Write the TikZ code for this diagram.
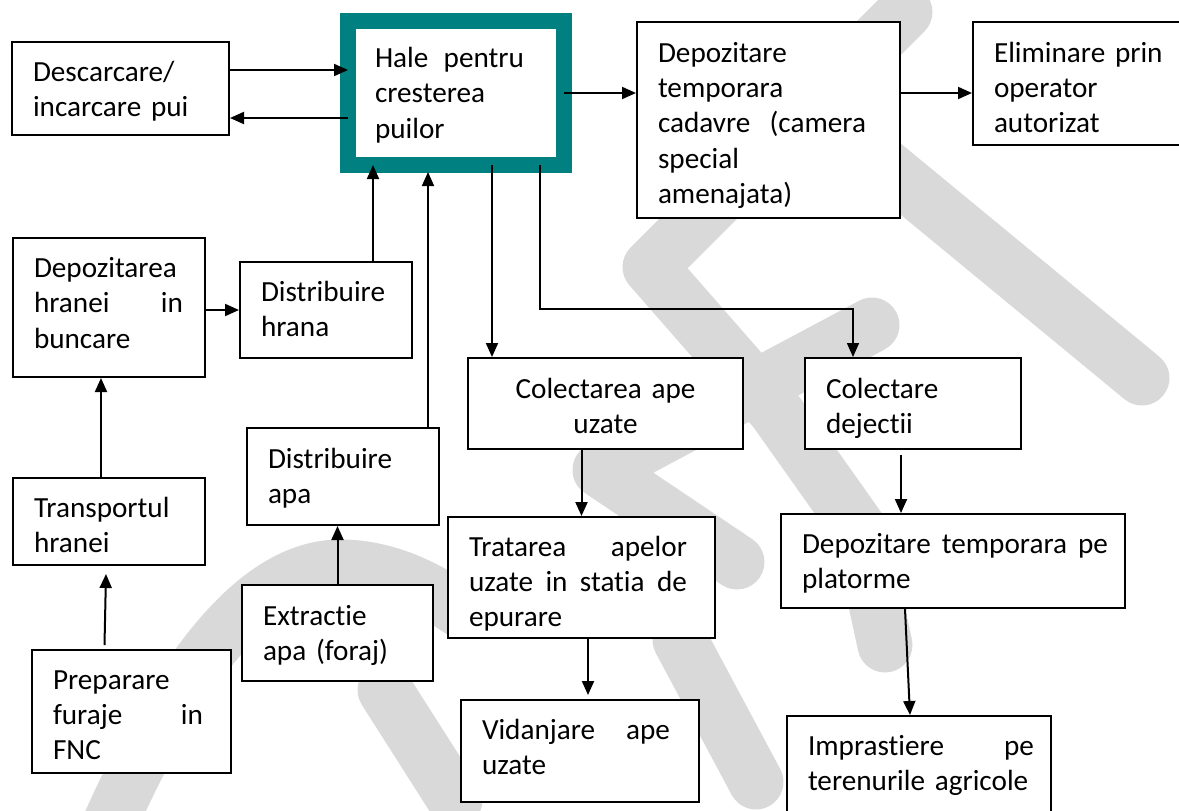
\documentclass[tikz,border=0pt]{standalone}
\usepackage{fontspec}
\setmainfont{Carlito}[Ligatures=NoCommon]
\usetikzlibrary{arrows.meta}

\newdimen\unitpx \unitpx=0.75pt
\newcommand{\boxfont}{\fontsize{21.9pt}{26.5pt}\selectfont}
\newcommand{\spreadline}[2]{\leavevmode\hbox to #1\unitpx{\spaceskip=0.23em plus 1fil\relax #2}}
\definecolor{halecol}{RGB}{0,128,128}
\definecolor{wmgray}{RGB}{217,217,217}

\tikzset{
  box/.style={draw, line width=2\unitpx, fill=white, anchor=north west, align=left,
    inner xsep=21\unitpx, inner ysep=0pt, font=\boxfont},
  arr/.style={line width=2\unitpx, -{Triangle[length=10.5pt,width=9pt]}},
  wm/.style={wmgray, line width=55\unitpx, line cap=round, line join=round},
}

\begin{document}
\begin{tikzpicture}[x=0.75pt, y=-0.75pt]

    \useasboundingbox (0,0) rectangle (1179,811);
    \clip (0,0) rectangle (1179,811);

    % watermark
    \draw[wm] (905,12) -- (650,267) -- (775,410) -- (860,530) -- (885,645);
    \draw[wm] (880,162) -- (1142,378);
    \draw[wm] (872,325) -- (600,470) -- (737,562);
    \draw[wm] (680,640) -- (756,782);
    \draw[wm] (385,690) -- (455,800);
    \draw[wm] (107,830) .. controls (200,620) and (280,567) .. (340,567)
        .. controls (390,567) and (430,590) .. (460,610);

    % boxes
    \node[box, text width=175\unitpx, text height=39\unitpx, text depth=54\unitpx] (desc) at (11,41)
        {Descarcare/\\incarcare pui};
    \node[box, draw=halecol, line width=16\unitpx, outer sep=0pt, inner xsep=27\unitpx,
        text width=162\unitpx, text height=46.5\unitpx, text depth=97.5\unitpx] (hale) at (348,21)
        {\spreadline{149}{Hale pentru}\\cresterea\\puilor};
    \node[box, text width=221\unitpx, text height=40\unitpx, text depth=156\unitpx] (dep) at (636,21)
        {Depozitare\\temporara\\\spreadline{208}{cadavre (camera}\\special\\amenajata)};
    \node[box, text width=186\unitpx, text height=40\unitpx, text depth=83\unitpx] (elim) at (972,21)
        {Eliminare prin\\operator\\autorizat};
    \node[box, text width=150\unitpx, text height=39.5\unitpx, text depth=99.5\unitpx] (dhr) at (12,237)
        {Depozitarea\\\spreadline{149}{hranei in}\\buncare};
    \node[box, text width=130\unitpx, text height=39\unitpx, text depth=57\unitpx] (dh) at (239,261)
        {Distribuire\\hrana};
    \node[box, align=center, text width=233\unitpx, text height=40\unitpx, text depth=51\unitpx] (ca) at (467,357)
        {Colectarea ape\\uzate};
    \node[box, text width=174\unitpx, text height=40\unitpx, text depth=51\unitpx] (cd) at (804,357)
        {Colectare\\dejectii};
    \node[box, text width=150\unitpx, text height=40\unitpx, text depth=57\unitpx] (da) at (246,427)
        {Distribuire\\apa};
    \node[box, text width=150\unitpx, text height=39\unitpx, text depth=48\unitpx] (th) at (12,477)
        {Transportul\\hranei};
    \node[box, text width=225\unitpx, text height=39\unitpx, text depth=82\unitpx] (tr) at (447,516)
        {\spreadline{218}{Tratarea apelor}\\\spreadline{218}{uzate in statia de}\\epurare};
    \node[box, text width=302\unitpx, text height=39\unitpx, text depth=55\unitpx] (pl) at (780,513)
        {\spreadline{306}{Depozitare temporara pe}\\platorme};
    \node[box, text width=149\unitpx, text height=40\unitpx, text depth=56\unitpx] (ex) at (241,584)
        {Extractie\\apa (foraj)};
    \node[box, text width=157\unitpx, text height=39\unitpx, text depth=84\unitpx] (pr) at (31,649)
        {Preparare\\\spreadline{150}{furaje in}\\FNC};
    \node[box, text width=196\unitpx, text height=39\unitpx, text depth=63\unitpx] (vi) at (460,699)
        {\spreadline{188}{Vidanjare ape}\\uzate};
    \node[box, text width=222\unitpx, text height=39\unitpx, text depth=76\unitpx] (im) at (786,715)
        {\spreadline{226}{Imprastiere pe}\\terenurile agricole};

    % connectors
    \coordinate (p1) at ([yshift=18.5\unitpx]desc.east);
    \coordinate (p2) at ([yshift=-29.5\unitpx]desc.east);
    \draw[arr] (p1) -- (p1 -| hale.west);
    \draw[arr] (p2 -| hale.west) -- (p2);
    \draw[arr] (hale.east) -- (hale.east -| dep.west);
    \draw[arr] (hale.east -| dep.east) -- (hale.east -| elim.west);

    \coordinate (p5) at ([xshift=47\unitpx]dh.north);
    \coordinate (p6) at ([xshift=85\unitpx]da.north);
    \draw[arr] (p5) -- (p5 |- hale.south);
    \draw[arr, line width=1.5\unitpx] (p6) -- ([yshift=-7\unitpx]p6 |- hale.south);
    \draw[arr] (ex.north) -- (ex.north |- da.south);
    \draw[arr] (dhr.east |- dh.west) -- (dh.west);

    \coordinate (p9) at ([xshift=-8\unitpx]th.north);
    \coordinate (p10) at ([xshift=-27\unitpx, yshift=4\unitpx]pr.north);
    \draw[arr] (p9) -- (p9 |- dhr.south);
    \draw[arr] (p10) -- ([xshift=1.5\unitpx, yshift=-8\unitpx]p10 |- th.south);

    \coordinate (p11) at ([xshift=36\unitpx]hale.south);
    \coordinate (p12) at ([xshift=84\unitpx]hale.south);
    \coordinate (p12b) at ([xshift=-60\unitpx]cd.north);
    \draw[arr] (p11) -- (p11 |- ca.north);
    \draw[arr, line width=1.5\unitpx] (p12) |- ([yshift=48\unitpx]p12b) -- (p12b);

    \draw[arr] (tr.north |- ca.south) -- (tr.north);
    \coordinate (p14) at ([xshift=-12\unitpx, yshift=-5\unitpx]cd.south);
    \draw[arr] (p14) -- (p14 |- pl.north);
    \coordinate (p15) at ([xshift=6.5\unitpx]tr.south);
    \draw[arr] (p15) -- ([yshift=4\unitpx]p15 |- vi.north);
    \coordinate (p16) at ([xshift=-48\unitpx]pl.south);
    \draw[arr] (p16) -- ([xshift=5\unitpx]p16 |- im.north);

\end{tikzpicture}
\end{document}
